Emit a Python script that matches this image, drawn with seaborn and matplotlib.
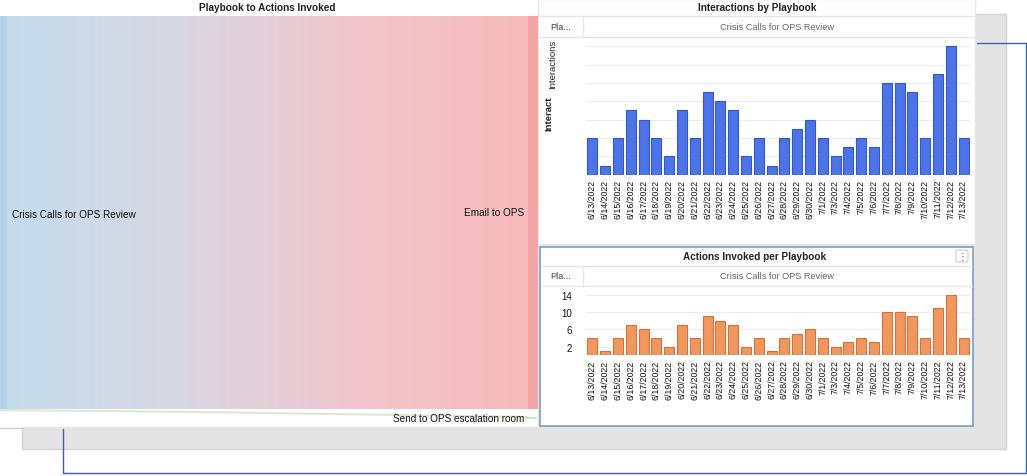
import numpy as np
import matplotlib.pyplot as plt
from matplotlib.patches import Rectangle, FancyBboxPatch
from matplotlib.colors import LinearSegmentedColormap
import seaborn as sns

# data
dates = ["6/13/2022", "6/14/2022", "6/15/2022", "6/16/2022", "6/17/2022", "6/18/2022",
         "6/19/2022", "6/20/2022", "6/21/2022", "6/22/2022", "6/23/2022", "6/24/2022",
         "6/25/2022", "6/26/2022", "6/27/2022", "6/28/2022", "6/29/2022", "6/30/2022",
         "7/1/2022", "7/3/2022", "7/4/2022", "7/5/2022", "7/6/2022", "7/7/2022",
         "7/8/2022", "7/9/2022", "7/10/2022", "7/11/2022", "7/12/2022", "7/13/2022"]
interactions = [4, 1, 4, 7, 6, 4, 2, 7, 4, 9, 8, 7, 2, 4, 1, 4, 5, 6, 4, 2,
                3, 4, 3, 10, 10, 9, 4, 11, 14, 4]
actions = [4, 1, 4, 7, 6, 4, 2, 7, 4, 9, 8, 7, 2, 4, 1, 4, 5, 6, 4, 2,
           3, 4, 3, 10, 10, 9, 4, 11, 14, 4]
playbook = "Crisis Calls for OPS Review"
action_names = ["Email to OPS", "Send to OPS escalation room"]

sns.set_theme(style="white")
plt.rcParams['font.family'] = ['Liberation Sans', 'DejaVu Sans']

W, H = 1027, 477
fig = plt.figure(figsize=(W / 100, H / 100), dpi=100)
fig.patch.set_facecolor('white')


def px_axes(x0, y0, x1, y1):
    # axes placed in pixel coords measured from top-left
    return fig.add_axes([x0 / W, 1 - y1 / H, (x1 - x0) / W, (y1 - y0) / H])


# background layer in pixel coordinates
bg = px_axes(0, 0, W, H)
bg.set_xlim(0, W)
bg.set_ylim(H, 0)
bg.axis('off')

bg.add_patch(Rectangle((22, 15), 984, 435, fc='#e4e4e4', ec='#d2d2d2', lw=1))
bg.plot([977, 1026, 1026, 63, 63], [44, 44, 474, 474, 430], color='#3b5fc0', lw=1)
bg.add_patch(Rectangle((0, 0), 538, 428, fc='white', ec='none'))
bg.plot([0, 22], [429, 429], color='#cfcfcf', lw=1)
bg.add_patch(Rectangle((538, 0), 437, 245, fc='white', ec='#e8e8e8', lw=1))
bg.add_patch(Rectangle((540, 248), 433, 179, fc='white', ec='#7d9dbf', lw=1.2))

# sankey-like flow: playbook -> actions
cmap = LinearSegmentedColormap.from_list('flow', ['#c4dced', '#d9d8e2', '#f0c6cc', '#f8b9b9'])
bg.imshow(np.linspace(0, 1, 256)[None, :], extent=(0, 538, 410, 17), aspect='auto',
          cmap=cmap, zorder=2)
bg.add_patch(Rectangle((0, 17), 7, 393, fc='#b4d2ea', ec='none', zorder=3))
bg.add_patch(Rectangle((528, 17), 10, 393, fc='#f2a5a5', ec='none', zorder=3))
bg.plot([0, 200, 400, 528], [411, 413, 416, 418], color='#dbe9d2', lw=1.5, zorder=2)
bg.plot([526, 536], [419, 419], color='#cfe3c4', lw=1.5, zorder=3)

bg.text(267, 8, "Playbook to Actions Invoked", ha='center', va='center',
        fontsize=7.2, fontweight='bold', color='#222222', zorder=4)
bg.text(12, 215, playbook, ha='left', va='center', fontsize=7.2, color='#111111', zorder=4)
bg.text(524, 213, action_names[0], ha='right', va='center', fontsize=7.2, color='#111111', zorder=4)
bg.text(524, 419, action_names[1], ha='right', va='center', fontsize=7.2, color='#111111', zorder=4)

# top-right panel headers
bg.text(757, 8, "Interactions by Playbook", ha='center', va='center',
        fontsize=7.2, fontweight='bold', color='#222222')
bg.plot([538, 975], [17, 17], color='#e6e6e6', lw=1)
bg.plot([538, 975], [38, 38], color='#e6e6e6', lw=1)
bg.plot([583, 583], [17, 38], color='#e6e6e6', lw=1)
bg.text(550, 28, "Pla...", ha='left', va='center', fontsize=6.6, color='#444444')
bg.text(777, 28, playbook, ha='center', va='center', fontsize=6.6, color='#666666')
bg.text(553, 64, "Interactions", rotation=90, ha='center', va='center',
        fontsize=6.8, color='#222222')
bg.text(549, 114, "Interact", rotation=90, ha='center', va='center',
        fontsize=6.8, fontweight='bold', color='#222222')

# bottom-right panel headers
bg.text(755, 257, "Actions Invoked per Playbook", ha='center', va='center',
        fontsize=7.2, fontweight='bold', color='#222222')
bg.add_patch(FancyBboxPatch((956, 251), 12, 12, boxstyle='round,pad=0,rounding_size=2',
                            fc='white', ec='#cccccc', lw=0.8))
bg.text(962, 257, "\u22ee", ha='center', va='center', fontsize=7, color='#555555')
bg.plot([541, 972], [267, 267], color='#e6e6e6', lw=1)
bg.plot([541, 972], [287, 287], color='#e6e6e6', lw=1)
bg.plot([583, 583], [267, 287], color='#e6e6e6', lw=1)
bg.text(550, 277, "Pla...", ha='left', va='center', fontsize=6.6, color='#444444')
bg.text(777, 277, playbook, ha='center', va='center', fontsize=6.6, color='#666666')


def style_bars(ax, ymax, ticks, show_labels):
    ax.set_facecolor('none')
    ax.set_xlim(-0.5, len(dates) - 0.5)
    ax.set_ylim(0, ymax)
    ax.set_yticks(ticks)
    if not show_labels:
        ax.set_yticklabels([])
    ax.grid(axis='y', color='#ececec', lw=0.8)
    ax.set_axisbelow(True)
    for s in ax.spines.values():
        s.set_visible(False)
    ax.set_xlabel('')
    ax.set_ylabel('')
    ax.tick_params(axis='x', labelrotation=90, labelsize=6.3, length=0, pad=3, labelcolor='#111111')
    ax.tick_params(axis='y', labelsize=7, length=0, pad=10, labelcolor='#111111')


ax1 = px_axes(586, 38, 970, 175.7)
sns.barplot(x=dates, y=interactions, color='#4c74e6', saturation=1, width=0.78,
            edgecolor='#3558c4', linewidth=0.8, ax=ax1)
style_bars(ax1, 15, range(2, 15, 2), False)

ax2 = px_axes(586, 287.3, 970, 356.3)
sns.barplot(x=dates, y=actions, color='#f0965f', saturation=1, width=0.78,
            edgecolor='#d2733d', linewidth=0.8, ax=ax2)
style_bars(ax2, 16, [2, 6, 10, 14], True)

fig.savefig('out.png', dpi=100)
